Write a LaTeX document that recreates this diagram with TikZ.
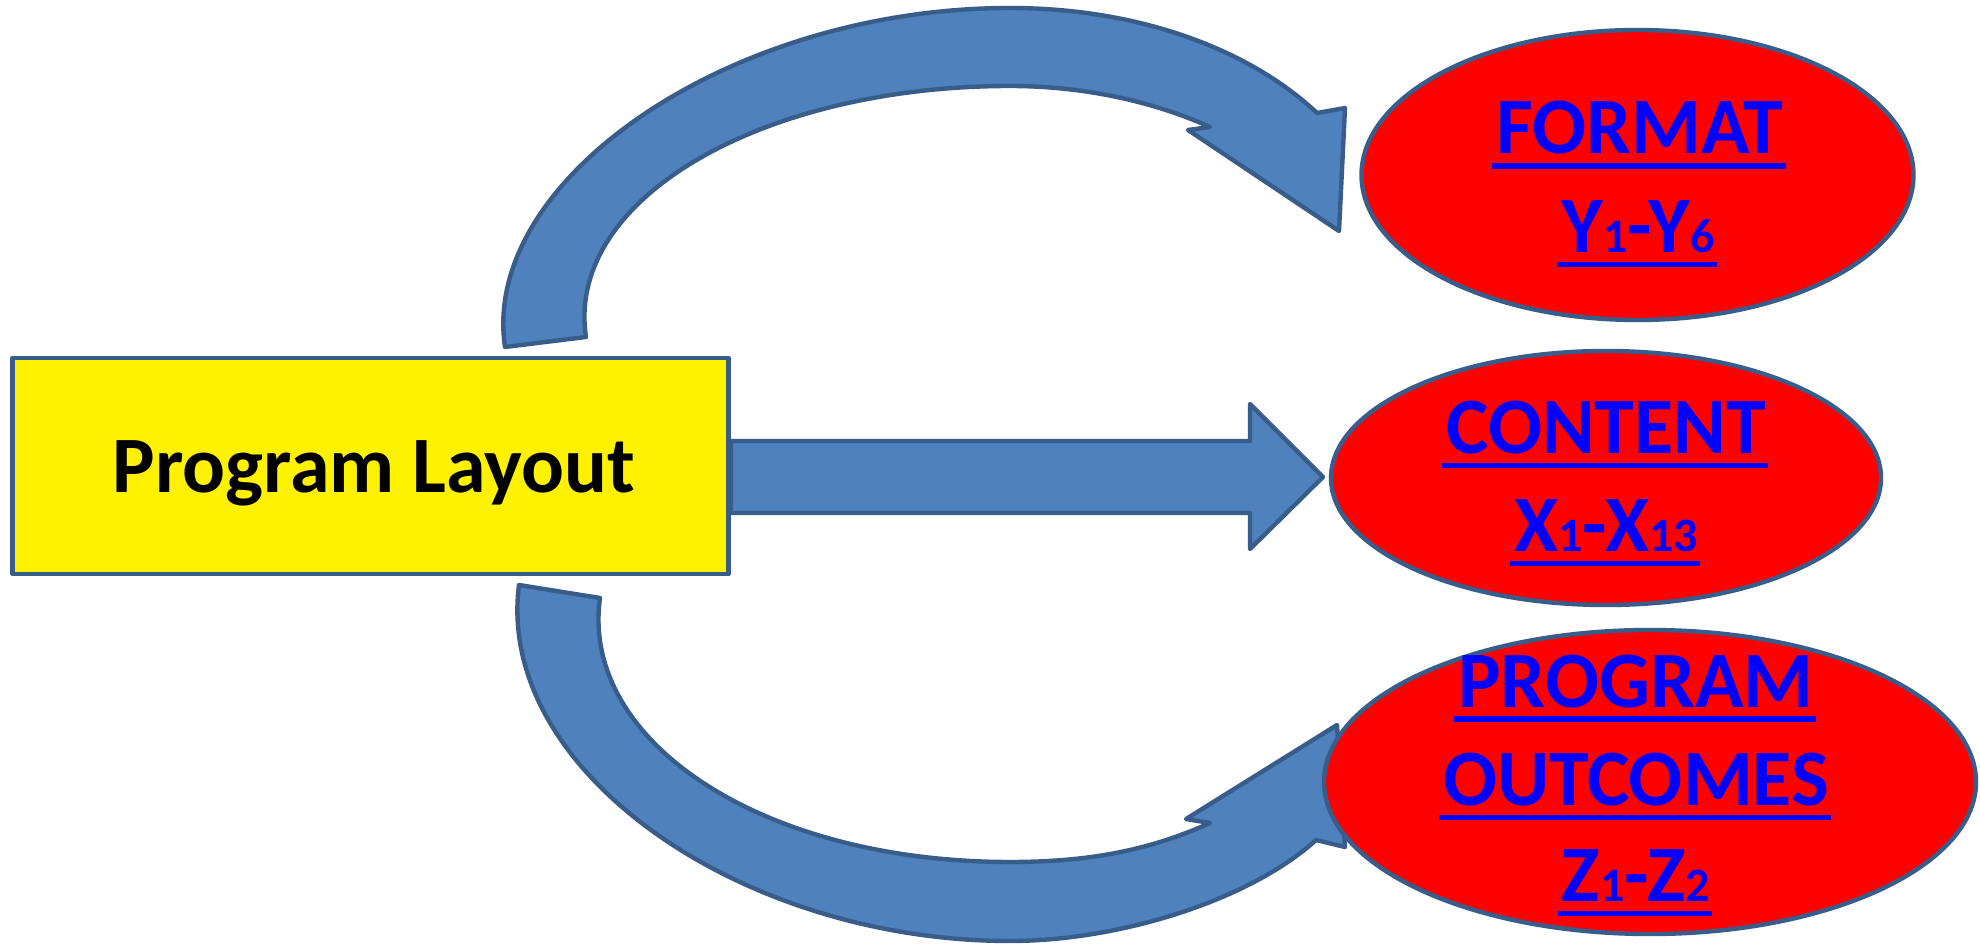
\documentclass[tikz,border=0pt]{standalone}
\usepackage{fontspec}
\setmainfont{Carlito}
\usetikzlibrary{shapes.geometric,calc}
\definecolor{edgeblue}{RGB}{56,93,138}
\definecolor{arrowfill}{RGB}{79,129,189}
\newcommand\subdigit[1]{{\fontsize{24}{24}\selectfont #1}}
\begin{document}
\begin{tikzpicture}[x=0.5pt,y=-0.5pt,
  shapeline/.style={draw=edgeblue, line width=2.2pt, line join=round},
  blockarrow/.style={shapeline, fill=arrowfill},
  layoutbox/.style={shapeline, fill=yellow, rectangle, minimum width=358pt, minimum height=108pt, inner sep=0pt},
  oval/.style={shapeline, fill=red, ellipse, inner sep=0pt},
  bigtext/.style={font=\fontsize{40}{48}\selectfont\bfseries, inner sep=0pt, anchor=base},
  ovaltext/.style={bigtext, text=blue},
  ul/.style={draw=blue, line width=2.6pt},
]
\useasboundingbox (0,0) rectangle (1980,945);

% curved arrow to FORMAT
\draw[blockarrow] (505,347) .. controls (480,180) and (730,8) .. (1010,8)
  .. controls (1140,8) and (1250,50) .. (1317,113)
  -- (1345,108) -- (1339,231) -- (1188,130) -- (1210,127)
  .. controls (1150,100) and (1080,86) .. (1010,86)
  .. controls (760,86) and (565,200) .. (586,337) -- cycle;

% curved arrow to PROGRAM OUTCOMES
\draw[blockarrow] (519,585) .. controls (495,770) and (740,941) .. (1010,941)
  .. controls (1120,941) and (1250,900) .. (1316,840)
  -- (1345,847) -- (1337,725) -- (1186,819) -- (1210,823)
  .. controls (1150,850) and (1090,862) .. (1010,862)
  .. controls (760,862) and (580,740) .. (600,598) -- cycle;

% box
\node[layoutbox] (box) at (370.6,466) {};
\node[bigtext] (boxtext) at (374,492.7) {Program Layout};

% straight arrow
\coordinate (sa) at (731,477);
\draw[blockarrow] ($(sa)+(0,-36)$) -- ($(sa)+(519,-36)$) -- ($(sa)+(519,-73)$)
  -- ($(sa)+(592,0)$) -- ($(sa)+(519,72)$) -- ($(sa)+(519,36)$) -- ($(sa)+(0,36)$) -- cycle;

% ellipses
\node[oval, minimum width=276pt, minimum height=145pt] (fmt) at (1637.5,175) {};
\node[oval, minimum width=275pt, minimum height=127pt] (cnt) at (1606,478) {};
\node[oval, minimum width=326pt, minimum height=152pt] (out) at (1650,782) {};

% texts
\node[ovaltext] (f1) at (1640,154) {FORMAT};
\node[ovaltext] (f2) at (1638,252.7) {Y\subdigit{1}-Y\subdigit{6}};
\node[ovaltext] (c1) at (1606,453.3) {CONTENT};
\node[ovaltext] (c2) at (1606,551.8) {X\subdigit{1}-X\subdigit{13}};
\node[ovaltext] (p1) at (1636,707) {PROGRAM};
\node[ovaltext] (p2) at (1636,805.7) {OUTCOMES};
\node[ovaltext] (p3) at (1636,901.6) {Z\subdigit{1}-Z\subdigit{2}};

\foreach \t in {f1,f2,c1,c2,p1,p2,p3}{
  \draw[ul] ($(\t.base west)+(-4,12)$) -- ($(\t.base east)+(2,12)$);
}
\end{tikzpicture}
\end{document}
